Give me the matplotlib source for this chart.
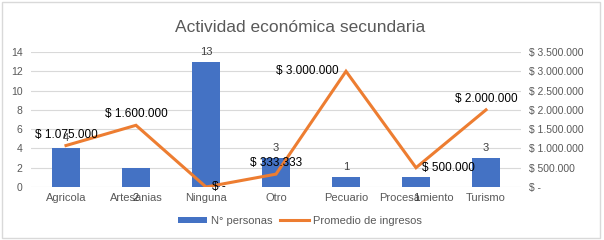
import matplotlib.pyplot as plt
from matplotlib.patches import Rectangle

categorias = ['Agricola', 'Artesanias', 'Ninguna', 'Otro', 'Pecuario', 'Procesamiento', 'Turismo']
personas = [4, 2, 13, 3, 1, 1, 3]
ingresos = [1075000, 1600000, 0, 333333, 3000000, 500000, 2000000]

# donde pone Excel cada etiqueta
pos_personas = ['arriba', 'abajo', 'arriba', 'arriba', 'arriba', 'abajo', 'arriba']
pos_ingresos = ['arriba', 'arriba', 'derecha', 'arriba', 'izquierda', 'derecha', 'arriba']

azul = '#4472C4'
naranja = '#ED7D31'
gris = '#595959'

plt.rcParams['font.family'] = ['Liberation Sans', 'DejaVu Sans']


def pesos(v):
    if v == 0:
        return '$ -'
    return '$ ' + f'{int(round(v)):,}'.replace(',', '.')


fig = plt.figure(figsize=(6.04, 2.40), dpi=100)
fig.patches.append(Rectangle((0.004, 0.01), 0.99, 0.98, transform=fig.transFigure,
                             fill=False, edgecolor='#d9d9d9', linewidth=1))

ax1 = fig.add_axes([31 / 604, 53 / 240, 490 / 604, 135 / 240])
ax2 = ax1.twinx()

x = list(range(len(categorias)))
ax1.bar(x, personas, width=0.4, color=azul, label='N° personas', zorder=2)
ax2.plot(x, ingresos, color=naranja, linewidth=2.2, label='Promedio de ingresos',
         solid_joinstyle='miter')

ax1.set_xlim(-0.5, len(categorias) - 0.5)
ax1.set_ylim(0, 14)
ax1.set_yticks(range(0, 15, 2))
ax2.set_ylim(0, 3500000)
ax2.set_yticks(range(0, 3500001, 500000))
ax2.set_yticklabels([pesos(v) for v in range(0, 3500001, 500000)])
ax1.set_xticks(x)
ax1.set_xticklabels(categorias)

ax1.grid(axis='y', color='#d9d9d9', linewidth=0.8, zorder=0)
ax1.set_axisbelow(True)
for ax in (ax1, ax2):
    for s in ax.spines.values():
        s.set_visible(False)
    ax.tick_params(length=0, labelsize=7.5, labelcolor=gris)
ax1.tick_params(axis='y', pad=6)
ax1.tick_params(axis='x', pad=4, labelsize=8)
ax2.tick_params(axis='y', pad=6)

# etiquetas de barras
for xi, v, p in zip(x, personas, pos_personas):
    if p == 'arriba':
        ax1.annotate(str(v), (xi, v), xytext=(0, 10), textcoords='offset pixels',
                     ha='center', va='center', fontsize=8, color='#404040')
    else:
        ax1.annotate(str(v), (xi, 0), xytext=(0, -11), textcoords='offset pixels',
                     ha='center', va='center', fontsize=8, color='#404040')

# etiquetas de la linea
desp = {'arriba': (0, 11, 'center'), 'derecha': (6, 0, 'left'), 'izquierda': (-7, 0, 'right')}
for xi, v, p in zip(x, ingresos, pos_ingresos):
    dx, dy, ha = desp[p]
    ax2.annotate(pesos(v), (xi, v), xytext=(dx, dy), textcoords='offset pixels',
                 ha=ha, va='center', fontsize=8.5, color='black')

fig.text(300 / 604, 1 - 28 / 240, 'Actividad económica secundaria', ha='center', va='center',
         fontsize=12.5, color=gris)

h1, l1 = ax1.get_legend_handles_labels()
h2, l2 = ax2.get_legend_handles_labels()
fig.legend(h1 + h2, l1 + l2, loc='center', bbox_to_anchor=(300 / 604, 1 - 221 / 240), ncol=2,
           frameon=False, fontsize=8, labelcolor=gris, handlelength=2.6, handleheight=0.5,
           columnspacing=0.6, handletextpad=0.4)

fig.savefig('out.png', dpi=100)
